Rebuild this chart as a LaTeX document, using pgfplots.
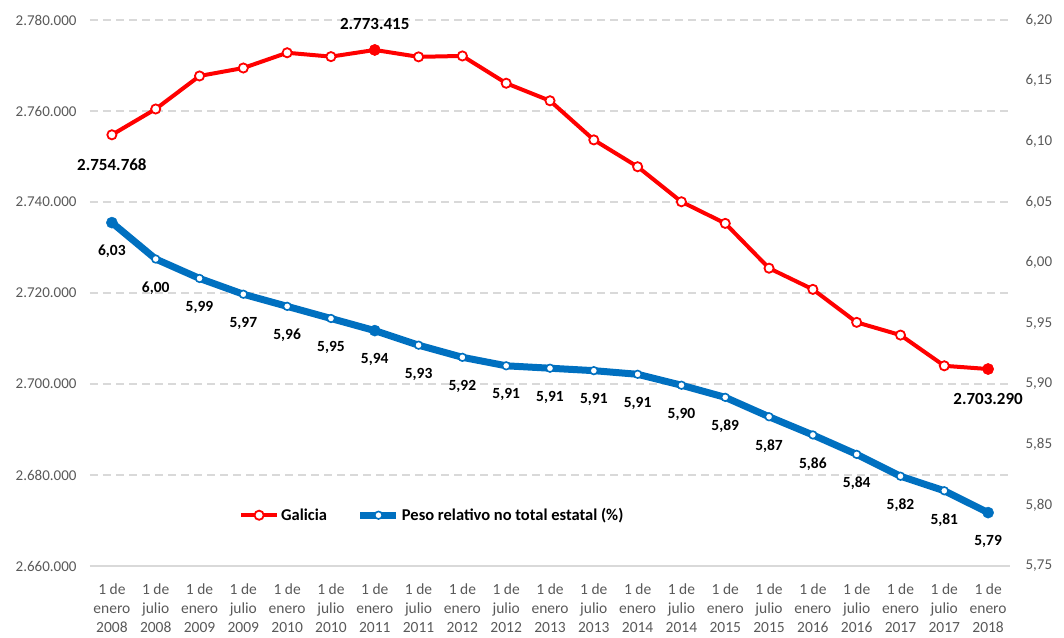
\documentclass[border=0pt]{standalone}
\usepackage{fontspec}
\setmainfont{Carlito}
\usepackage{pgfplots}
\pgfplotsset{compat=1.18}
\usepackage{pgfplotstable}
\definecolor{galred}{RGB}{255,0,0}
\definecolor{pesoblue}{RGB}{0,112,192}
\definecolor{gridgray}{RGB}{217,217,217}
\definecolor{ticktext}{RGB}{89,89,89}

% Galicia, poboacion
\pgfplotstableread{
x pob
0 2754768
1 2760440
2 2767700
3 2769450
4 2772800
5 2771950
6 2773415
7 2771900
8 2772100
9 2766100
10 2762250
11 2753650
12 2747750
13 2740050
14 2735300
15 2725450
16 2720800
17 2713550
18 2710750
19 2704000
20 2703290
}\galicia

\pgfplotstableread{
x pob lab
0 2754768 2.754.768
20 2703290 2.703.290
}\galbelow

\pgfplotstableread{
x pob lab
6 2773415 2.773.415
}\galabove

% peso relativo (%)
\pgfplotstableread{
x peso lab
0 6.033 6,03
1 6.003 6,00
2 5.987 5,99
3 5.974 5,97
4 5.964 5,96
5 5.954 5,95
6 5.944 5,94
7 5.932 5,93
8 5.922 5,92
9 5.915 5,91
10 5.913 5,91
11 5.911 5,91
12 5.908 5,91
13 5.899 5,90
14 5.889 5,89
15 5.873 5,87
16 5.858 5,86
17 5.842 5,84
18 5.824 5,82
19 5.812 5,81
20 5.794 5,79
}\peso

\begin{document}
\begin{tikzpicture}
\useasboundingbox (-90pt,-71pt) rectangle (974pt,566pt);
\pgfplotsset{
  base/.style={scale only axis, width=920pt, height=546pt,
    xmin=-0.5, xmax=20.5, clip=false,
    tick label style={font=\fontsize{15}{19}\selectfont, text=ticktext},
    major tick length=0pt,
    /pgf/number format/assume math mode=true},
  galstyle/.style={galred, line width=4pt, mark=*, mark size=4.6pt,
    mark options={fill=white, draw=galred, line width=1.8pt}},
  pesostyle/.style={pesoblue, line width=7pt, mark=*, mark size=3.8pt,
    mark options={fill=white, draw=pesoblue, line width=1.6pt}},
  legend image code/.code={\draw[mark repeat=2,mark phase=2,#1]
    plot coordinates {(0pt,0pt) (18pt,0pt) (36pt,0pt)};},
}
\begin{axis}[base,
  ymin=2660000, ymax=2780000,
  ytick={2660000,2680000,2700000,2720000,2740000,2760000,2780000},
  scaled y ticks=false,
  /pgf/number format/.cd, fixed, precision=0, 1000 sep={.},
  /pgfplots/.cd,
  axis x line*=bottom, axis y line*=left,
  y axis line style={draw=none},
  x axis line style={draw=gridgray, line width=1.5pt, -},
  ymajorgrids,
  grid style={gridgray, line width=1.5pt, dash pattern=on 8pt off 5pt},
  yticklabel style={xshift=-10pt},
  xtick={0,...,20},
  xticklabels={{1 de\\enero\\2008},{1 de\\julio\\2008},{1 de\\enero\\2009},{1 de\\julio\\2009},
    {1 de\\enero\\2010},{1 de\\julio\\2010},{1 de\\enero\\2011},{1 de\\julio\\2011},
    {1 de\\enero\\2012},{1 de\\julio\\2012},{1 de\\enero\\2013},{1 de\\julio\\2013},
    {1 de\\enero\\2014},{1 de\\julio\\2014},{1 de\\enero\\2015},{1 de\\julio\\2015},
    {1 de\\enero\\2016},{1 de\\julio\\2016},{1 de\\enero\\2017},{1 de\\julio\\2017},
    {1 de\\enero\\2018}},
  xticklabel style={align=center, yshift=-14pt,
    font=\fontsize{15.5}{19}\selectfont},
]
\addplot[galstyle] table[x=x, y=pob] {\galicia};
\addplot[only marks, mark=*, galred, mark size=5.6pt] coordinates {(6,2773415) (20,2703290)};
\addplot[draw=none, mark=none, nodes near coords, point meta=explicit symbolic,
  every node near coord/.append style={anchor=center, yshift=-30pt, text=black,
    font=\fontsize{17}{20}\selectfont\bfseries}]
  table[x=x, y=pob, meta=lab] {\galbelow};
\addplot[draw=none, mark=none, nodes near coords, point meta=explicit symbolic,
  every node near coord/.append style={anchor=center, yshift=26pt, text=black,
    font=\fontsize{17}{20}\selectfont\bfseries}]
  table[x=x, y=pob, meta=lab] {\galabove};
\end{axis}

\begin{axis}[base,
  axis x line=none, axis y line*=right,
  y axis line style={draw=none},
  ymin=5.75, ymax=6.20,
  ytick={5.75,5.80,5.85,5.90,5.95,6.00,6.05,6.10,6.15,6.20},
  /pgf/number format/.cd, fixed, fixed zerofill, precision=2, use comma,
  /pgfplots/.cd,
  yticklabel style={xshift=12pt},
  legend columns=2,
  legend style={at={(0.372,0.093)}, anchor=center, draw=none, fill=none,
    font=\fontsize{16.5}{19}\selectfont\bfseries,
    /tikz/every even column/.append style={column sep=28pt}},
]
\addlegendimage{galstyle}
\addlegendentry{Galicia}
\addplot[pesostyle, nodes near coords, point meta=explicit symbolic,
  every node near coord/.append style={anchor=center, yshift=-29pt, text=black,
    font=\fontsize{15.5}{18}\selectfont\bfseries}]
  table[x=x, y=peso, meta=lab] {\peso};
\addlegendentry{Peso relativo no total estatal (\%)}
\addplot[only marks, mark=*, pesoblue, mark size=5.6pt, forget plot]
  coordinates {(0,6.033) (6,5.944) (20,5.794)};
\end{axis}
\end{tikzpicture}
\end{document}
